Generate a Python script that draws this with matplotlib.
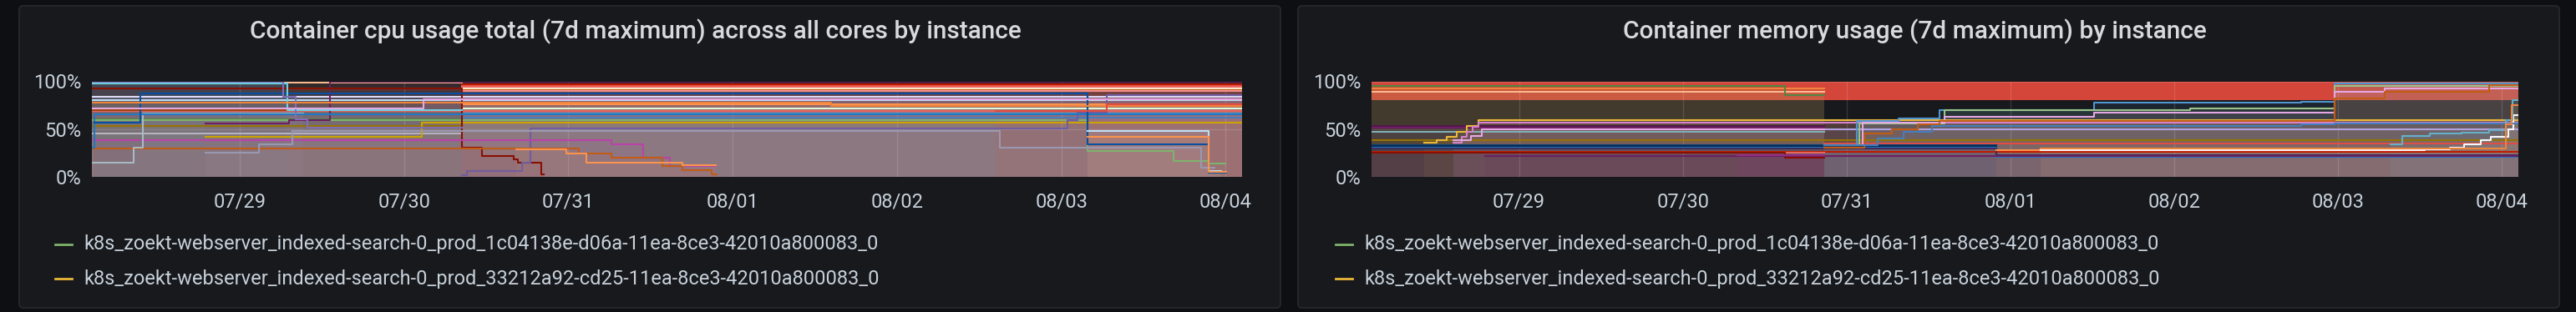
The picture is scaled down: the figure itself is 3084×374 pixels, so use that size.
import numpy as np
import matplotlib
matplotlib.use("Agg")
import matplotlib.pyplot as plt
import matplotlib.dates as mdates
from matplotlib.patches import FancyBboxPatch
from matplotlib.lines import Line2D
from matplotlib.transforms import IdentityTransform

plt.rcParams['font.family'] = ['Roboto', 'DejaVu Sans']

W, H = 3084, 374

# ---- data: hours since window start (2020-07-28 02:24), values as fraction ----
start = np.datetime64('2020-07-28T02:24')
window_hours = 168

titles = ["Container cpu usage total (7d maximum) across all cores by instance",
          "Container memory usage (7d maximum) by instance"]
legend_labels = ["k8s_zoekt-webserver_indexed-search-0_prod_1c04138e-d06a-11ea-8ce3-42010a800083_0",
                 "k8s_zoekt-webserver_indexed-search-0_prod_33212a92-cd25-11ea-8ce3-42010a800083_0"]

# cpu: flat lines (level, from, to)
cpu_flat_levels = [0.99, 0.975, 0.985, 0.97, 0.955, 0.94, 0.925, 0.91, 0.90, 0.835,
                   0.80, 0.716, 0.687, 0.70, 0.53, 0.45, 0.605, 0.62, 0.665, 0.76]
cpu_flat_from = [0, 0, 28.3, 54, 54, 54, 28.3, 54, 54, 0,
                 0, 54, 0, 0, 0, 0, 0, 54, 54, 54]
cpu_flat_to = [28.3, 28.3, 54, 168, 168, 168, 168, 168, 168, 168,
               168, 168, 168, 54, 54, 54, 54, 168, 168, 168]

# cpu: stepped series (change times incl. end, values)
cpu_green = ([0, 145.4, 158, 163.1, 165.5], [0.595, 0.27, 0.17, 0.14])
cpu_yellow = ([16.6, 48.2, 168], [0.42, 0.57])
cpu_plum = ([16.6, 28.8, 34.8, 168], [0.56, 0.59, 0.995])
cpu_darkred = ([0, 54, 57, 61.6, 62.2, 65.6, 66], [0.93, 0.31, 0.22, 0.18, 0.145, 0.03])
cpu_violet = ([54, 54.8, 62.8, 64.1, 142.5, 144, 148.2, 168], [0.02, 0.06, 0.15, 0.505, 0.59, 0.67, 0.856])
cpu_magenta = ([0, 75.9, 80.5, 84.4, 91.1], [0.385, 0.34, 0.20, 0.11])
cpu_rust = ([0, 71.1, 75.9, 83.3, 86.3, 90.5, 91.3], [0.295, 0.245, 0.20, 0.11, 0.07, 0.03])
cpu_apricot = ([62, 69.3, 72.2, 86.3, 91.1], [0.29, 0.245, 0.15, 0.12])
cpu_silver = ([0, 6.1, 7.4, 30.9], [0.15, 0.31, 0.66])
cpu_blue = ([0, 0.4, 168], [0.31, 0.655])
cpu_navy = ([0.4, 7.1, 145.4, 163.1, 165.7], [0.57, 0.875, 0.34, 0.04])
cpu_ash = ([16.6, 24.4, 29.3, 132.6, 162, 164], [0.25, 0.34, 0.48, 0.31, 0.10])
cpu_cyan = ([0, 28.5, 54], [0.98, 0.70])
cpu_lavender = ([0, 28, 29.8, 31.5, 54], [0.995, 0.84, 0.60, 0.515])
cpu_orange = ([0, 108, 168], [0.78, 0.74])
cpu_pink = ([0, 48.4, 168], [0.72, 0.815])
cpu_steel = ([145.4, 163.1, 165], [0.48, 0.06])
cpu_tangerine = ([145.4, 163.1, 165.7], [0.42, 0.05])
cpu_rose = ([132, 148.2, 168], [0.69, 0.76])

# memory: flat lines
mem_flat_levels = [0.925, 0.895, 0.535, 0.515, 0.47, 0.385, 0.265, 0.50, 0.57, 0.345, 0.255, 0.33]
mem_flat_from = [0, 0, 0, 0, 0, 0, 0, 66.3, 66.3, 66.3, 0, 0]
mem_flat_to = [66.3, 66.3, 66.3, 66.3, 66.3, 168, 168, 168, 168, 168, 66.3, 91.5]

# memory: stepped series
mem_green = ([0, 60.6, 66.3], [0.955, 0.856])
mem_yellow = ([7.7, 9.5, 11, 12.5, 14, 15.7, 168], [0.36, 0.38, 0.42, 0.47, 0.53, 0.59])
mem_pink = ([12, 13.2, 14, 14.8, 15.7, 168], [0.36, 0.42, 0.47, 0.52, 0.565])
mem_lilac = ([12, 14.5, 16.2, 66.3], [0.38, 0.43, 0.50])
mem_navy = ([0, 91.5, 168], [0.32, 0.22])
mem_blue = ([0, 91.5, 168], [0.31, 0.21])
mem_indigo = ([0, 91.5, 168], [0.30, 0.23])
mem_maroon = ([0, 60.6, 66.3], [0.25, 0.20])
mem_amber = ([91.5, 98], [0.28])
mem_white = ([98, 154.3, 158, 160, 162.5, 164, 166.5, 167.3, 168], [0.28, 0.29, 0.31, 0.34, 0.38, 0.42, 0.50, 0.65])
mem_plum = ([16.6, 168], [0.22])
mem_sky = ([66.3, 71.1, 77.2, 83.2, 105.8, 136.2, 141.1, 168], [0.33, 0.585, 0.61, 0.70, 0.776, 0.79, 0.975])
mem_mint = ([66.3, 71.5, 84, 119.9, 141.1, 168], [0.33, 0.56, 0.695, 0.715, 0.955])
mem_orchid = ([66.3, 72, 84, 105.8, 141.1, 148.4, 168], [0.33, 0.57, 0.63, 0.67, 0.89, 0.93])
mem_brown = ([66.3, 72.2, 76.2, 80, 83.2, 141.1, 148.4, 163.7, 168], [0.31, 0.45, 0.50, 0.55, 0.585, 0.82, 0.89, 0.96])
mem_slate = ([66.3, 74.1, 78, 82.1, 136.2, 141.1, 168], [0.33, 0.40, 0.47, 0.535, 0.55, 0.56])
mem_azure = ([149.3, 151, 155, 159.7, 163.7, 166.2, 167.1, 168], [0.34, 0.43, 0.45, 0.46, 0.49, 0.59, 0.80])
mem_ember = ([98, 166.2, 167, 168], [0.30, 0.55, 0.75])
mem_violet = ([53.6, 66.3], [0.225])

# ---- colours ----
page_bg = '#0e0f12'
panel_bg = '#17191d'
panel_edge = '#24262b'
text_col = '#c7d0d9'
title_col = '#d8d9da'
legend_cols = ['#7EB26D', '#EAB839']

cpu_flat_cols = ['#D683CE', '#9AC48A', '#F9BA8F', '#BF1B00', '#E24D42', '#EA6460', '#FCEACA', '#C15C17',
                 '#F29191', '#DEDAF7', '#BADFF4', '#E0F9D7', '#EA6460', '#99440A', '#967302', '#b4b3c0',
                 '#508642', '#447EBC', '#5195CE', '#F9934E']
cpu_steps = [(cpu_green, '#7EB26D'), (cpu_yellow, '#CCA300'), (cpu_plum, '#6D1F62'),
             (cpu_darkred, '#890F02'), (cpu_violet, '#705DA0'), (cpu_magenta, '#BA43A9'),
             (cpu_rust, '#C15C17'), (cpu_apricot, '#F9934E'), (cpu_silver, '#a9b9c2'),
             (cpu_blue, '#1F78C1'), (cpu_navy, '#0A50A1'), (cpu_ash, '#9a98b0'),
             (cpu_cyan, '#6ED0E0'), (cpu_lavender, '#806EB7'), (cpu_orange, '#EF843C'),
             (cpu_pink, '#E5A8E2'), (cpu_steel, '#BADFF4'), (cpu_tangerine, '#F9934E'),
             (cpu_rose, '#E24D42')]

mem_flat_cols = ['#EF843C', '#F9BA8F', '#511749', '#6D1F62', '#7fb0b5', '#967302', '#BF1B00',
                 '#AEA2E0', '#F29191', '#E24D42', '#EA6460', '#0A437C']
mem_steps = [(mem_green, '#508642'), (mem_yellow, '#EAB839'), (mem_pink, '#D683CE'),
             (mem_lilac, '#E5A8E2'), (mem_navy, '#052B51'), (mem_blue, '#1F78C1'),
             (mem_indigo, '#3F2B5B'), (mem_maroon, '#890F02'), (mem_amber, '#F9934E'),
             (mem_white, '#F7F8FA'), (mem_plum, '#6D1F62'), (mem_sky, '#5195CE'),
             (mem_mint, '#9AC48A'), (mem_orchid, '#E5A8E2'), (mem_brown, '#C15C17'),
             (mem_slate, '#447EBC'), (mem_azure, '#64B0C8'), (mem_ember, '#EF843C'),
             (mem_violet, '#962D82')]

t0 = mdates.date2num(start)


def draw_series(ax, t, v, color):
    x = t0 + np.asarray(t, dtype=float) / 24.0
    y = list(v) + [v[-1]]
    ax.fill_between(x, y, 0, step='post', color=color, alpha=0.1, lw=0, zorder=1)
    ax.step(x, y, where='post', color=color, lw=1.5, zorder=2)


fig = plt.figure(figsize=(W / 100, H / 100), dpi=100, facecolor=page_bg)


def fx(px):
    return px / W


def fy(py):
    return 1 - py / H


panels = [
    dict(x0=23, x1=1533, px0=110, px1=1487, tx=761, lx=66),
    dict(x0=1554, x1=3064, px0=1642, px1=3015, tx=2292, lx=1599),
]
ptop, pbot = 7, 369
atop, abot = 97.5, 212

for i, p in enumerate(panels):
    box = FancyBboxPatch((p['x0'], H - pbot), p['x1'] - p['x0'], pbot - ptop,
                         boxstyle='round,pad=0,rounding_size=5', transform=IdentityTransform(),
                         facecolor=panel_bg, edgecolor=panel_edge, lw=1.5, zorder=-5)
    fig.add_artist(box)

    ax = fig.add_axes([fx(p['px0']), fy(abot), fx(p['px1'] - p['px0']), (abot - atop) / H])
    ax.set_facecolor('none')
    ax.set_xlim(t0, t0 + window_hours / 24)
    ax.set_ylim(0, 1)

    if i == 1:
        ax.axhspan(0.8, 1.0, color='#d4453a', lw=0, zorder=0.3)

    if i == 0:
        for lvl, a, b, c in zip(cpu_flat_levels, cpu_flat_from, cpu_flat_to, cpu_flat_cols):
            draw_series(ax, [a, b], [lvl], c)
        for (t, v), c in cpu_steps:
            draw_series(ax, t, v, c)
    else:
        for lvl, a, b, c in zip(mem_flat_levels, mem_flat_from, mem_flat_to, mem_flat_cols):
            draw_series(ax, [a, b], [lvl], c)
        for (t, v), c in mem_steps:
            draw_series(ax, t, v, c)

    ax.set_yticks([0, 0.5, 1.0])
    ax.set_yticklabels(['0%', '50%', '100%'])
    ax.xaxis.set_major_locator(mdates.DayLocator())
    ax.xaxis.set_major_formatter(mdates.DateFormatter('%m/%d'))
    ax.tick_params(axis='both', length=0, colors=text_col, labelsize=17)
    ax.tick_params(axis='y', pad=9)
    ax.tick_params(axis='x', pad=13)
    for s in ax.spines.values():
        s.set_visible(False)
    ax.grid(True, color='#ffffff', alpha=0.13, lw=1)
    for gl in ax.get_xgridlines() + ax.get_ygridlines():
        gl.set_zorder(0.5)

    fig.text(fx(p['tx']), fy(46), titles[i], ha='center', va='baseline',
             color=title_col, fontsize=21.5, fontweight='medium')

    for j, lab in enumerate(legend_labels):
        ly = 293 + j * 41
        fig.add_artist(Line2D([fx(p['lx']), fx(p['lx'] + 20)], [fy(ly), fy(ly)],
                              transform=fig.transFigure, color=legend_cols[j], lw=2))
        fig.text(fx(p['lx'] + 34), fy(299 + j * 42), lab, ha='left', va='baseline',
                 color=text_col, fontsize=17)

fig.savefig('out.png', dpi=100, facecolor=page_bg)
